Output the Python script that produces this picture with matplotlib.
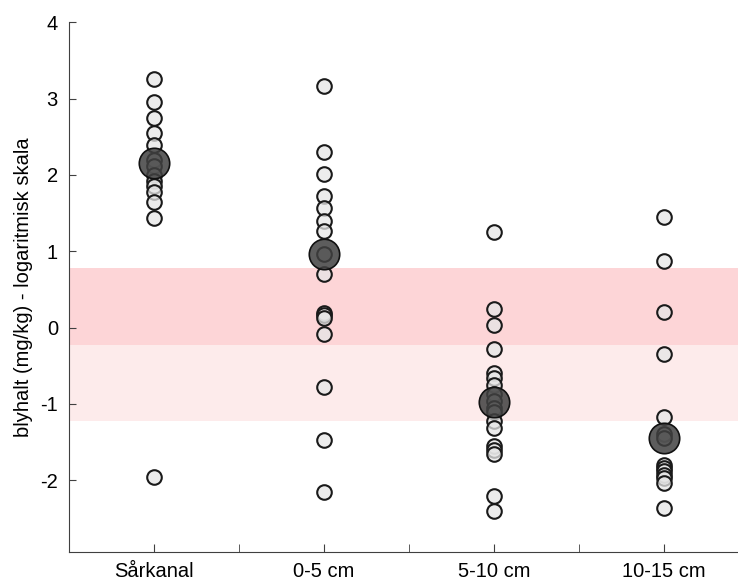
import matplotlib
matplotlib.use('Agg')
import matplotlib.pyplot as plt
import numpy as np

plt.rcParams['font.family'] = ['Liberation Sans', 'DejaVu Sans']

# log10 lead content per sample
categories = ["Sårkanal", "0-5 cm", "5-10 cm", "10-15 cm"]
sarkanal = [3.26, 2.95, 2.74, 2.55, 2.39, 2.2, 2.12, 2.0, 1.92, 1.85, 1.78, 1.65, 1.43, -1.96]
cm_0_5 = [3.17, 2.30, 2.01, 1.72, 1.56, 1.39, 1.27, 0.97, 0.70, 0.19, 0.16, 0.13, -0.08,
          -0.78, -1.47, -2.15]
cm_5_10 = [1.25, 0.24, 0.03, -0.28, -0.59, -0.66, -0.75, -0.87, -0.96, -1.05, -1.1, -1.22,
           -1.32, -1.55, -1.6, -1.65, -2.2, -2.4]
cm_10_15 = [1.45, 0.87, 0.20, -0.34, -1.17, -1.39, -1.45, -1.8, -1.84, -1.88, -1.93, -1.97,
            -2.03, -2.37]
centers = [2.16, 0.97, -0.97, -1.44]

# reference bands (log10 of 0.06 / 0.6 / 6 mg/kg)
band_low = [np.log10(0.06), np.log10(0.6)]
band_high = [np.log10(0.6), np.log10(6)]

fig = plt.figure(figsize=(7.38, 5.85), dpi=100)
ax = fig.add_axes([0.0935, 0.0564, 0.9065, 0.9056])

ax.axhspan(*band_high, color="#fdd5d7", lw=0, zorder=0)
ax.axhspan(*band_low, color="#fdebeb", lw=0, zorder=0)

groups = [sarkanal, cm_0_5, cm_5_10, cm_10_15]
for i, vals in enumerate(groups, start=1):
    ax.scatter([i] * len(vals), vals, s=110, facecolor=(0.9, 0.9, 0.9, 0.75),
               edgecolor="#1a1a1a", linewidth=1.5, zorder=3)

ax.scatter(range(1, 5), centers, s=480, facecolor=(0.25, 0.25, 0.25, 0.85),
           edgecolor="#111111", linewidth=1.2, zorder=4)

ax.set_xlim(0.5, 4.435)
ax.set_ylim(-2.94, 4)
ax.set_xticks([1, 2, 3, 4])
ax.set_xticklabels(categories, fontsize=14.5)
ax.set_xticks([1.5, 2.5, 3.5], minor=True)
ax.set_yticks([-2, -1, 0, 1, 2, 3, 4])
ax.set_yticklabels(["-2", "-1", "0", "1", "2", "3", "4"], fontsize=14.5)
ax.tick_params(axis="both", which="both", direction="in", color="#404040")
ax.tick_params(axis="x", which="both", length=6, pad=7)
ax.tick_params(axis="y", length=5, pad=8)
ax.set_ylabel("blyhalt (mg/kg) - logaritmisk skala", fontsize=14.5, labelpad=5)

for side in ("top", "right"):
    ax.spines[side].set_visible(False)
for side in ("left", "bottom"):
    ax.spines[side].set_color("#404040")

fig.savefig("out.png", dpi=100)
